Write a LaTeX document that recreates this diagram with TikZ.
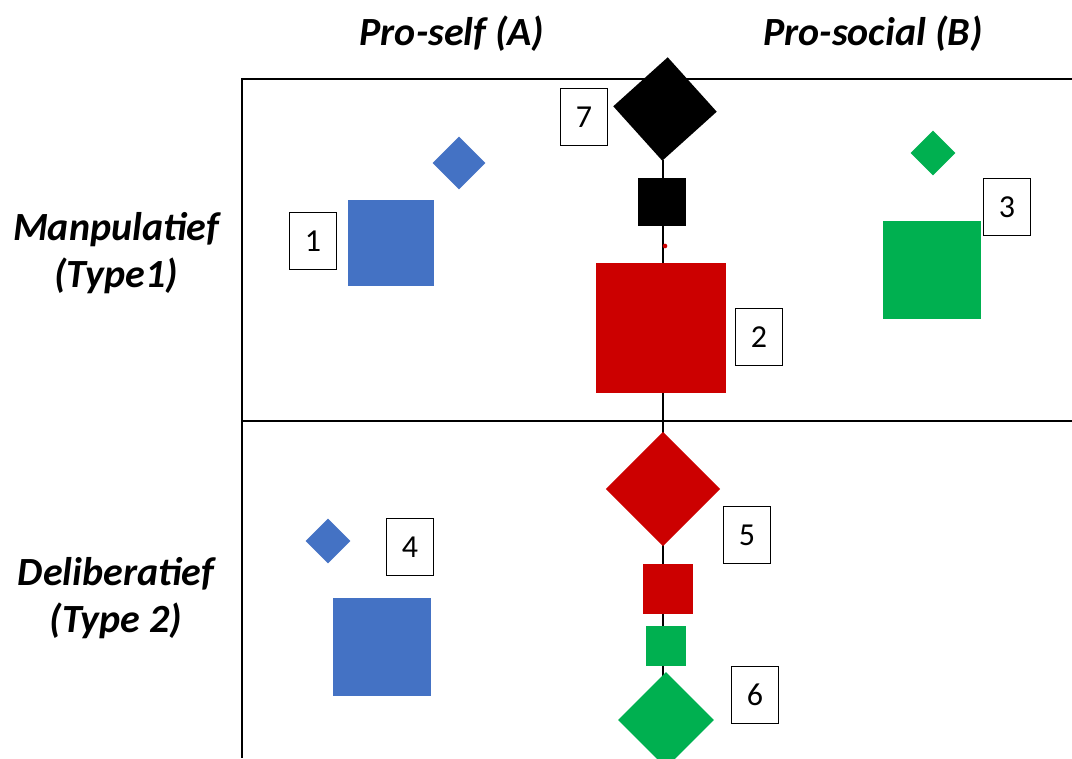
\documentclass[tikz,border=0pt]{standalone}
\usepackage{fontspec}
\setmainfont{Carlito}
\usetikzlibrary{shapes.geometric}

\definecolor{blueA}{HTML}{4472C4}
\definecolor{redA}{HTML}{CC0000}
\definecolor{greenA}{HTML}{00B050}

\tikzset{every picture/.style={line width=0.75pt}}
\tikzset{
  headtext/.style={inner sep=0.75pt, font=\fontsize{30}{35}\selectfont\bfseries\itshape, align=center},
  numbox/.style={draw, line width=1.1pt, minimum width=35pt, minimum height=42.5pt, inner sep=0pt, font=\fontsize{24}{28}\selectfont},
  sqbox/.style={rectangle, inner sep=0pt, minimum size=#1},
  dmbox/.style={diamond, inner sep=0pt, minimum width=#1, minimum height=#1}
}

\begin{document}
\begin{tikzpicture}[x=0.75pt,y=0.75pt,yscale=-1,xscale=1]
\useasboundingbox (0,0) rectangle (1072,758);

%Straight Lines (frame)
\draw [line width=1.5pt]  (1072,79) -- (242,79) -- (242,758) ;
\draw [line width=1.5pt]  (242,421) -- (1072,421) ;

%Straight Lines (middle axis)
\coordinate (axtop) at (663,160);
\coordinate (axbot) at (663,758);
\draw [line width=1.5pt]  (axtop) -- (axbot) ;

%Shape: Diamond 7
\node (d7) at (665,109) [dmbox=78pt, fill=black, rotate=-3] {};
%Shape: Square 7
\node (sq7) at (662,202) [sqbox=36pt, fill=black] {};
%Shape: Circle (red dot)
\node (dot) at (665,246) [circle, fill=redA, inner sep=0pt, minimum size=3.5pt] {};
%Shape: Square 2
\node (sq2) at (661,328) [sqbox=97.5pt, fill=redA] {};

%Shape: Diamond 1
\node (d1) at (459,163) [dmbox=40pt, fill=blueA] {};
%Shape: Square 1
\node (sq1) at (391,243) [sqbox=64pt, fill=blueA] {};

%Shape: Diamond 3
\node (d3) at (933,153) [dmbox=34pt, fill=greenA] {};
%Shape: Square 3
\node (sq3) at (932,270) [sqbox=73pt, fill=greenA] {};

%Shape: Diamond 4
\node (d4) at (328,541) [dmbox=34pt, fill=blueA] {};
%Shape: Square 4
\node (sq4) at (382,647) [sqbox=73pt, fill=blueA] {};

%Shape: Diamond 5
\node (d5) at (663,489) [dmbox=86pt, fill=redA] {};
%Shape: Square 5
\node (sq5) at (668,589) [sqbox=37pt, fill=redA] {};
%Shape: Square 6
\node (sq6) at (666,646) [sqbox=29.5pt, fill=greenA] {};
%Shape: Diamond 6
\node (d6) at (666,720) [dmbox=72pt, fill=greenA] {};

% Number Nodes
\node (n1) at (313,241) [numbox] {1};
\node (n2) at (759,337) [numbox] {2};
\node (n3) at (1007,207) [numbox] {3};
\node (n4) at (410,547) [numbox] {4};
\node (n5) at (747,535) [numbox] {5};
\node (n6) at (755,695) [numbox] {6};
\node (n7) at (584,117) [numbox] {7};

% Text Node
\node (pself) at (452,34) [headtext] {Pro-self (A)};
% Text Node
\node (psoc) at (873,34) [headtext] {Pro-social (B)};
% Text Node
\node (manip) at (116,253) [headtext] {Manpulatief\\(Type1)};
% Text Node
\node (delib) at (116,598) [headtext] {Deliberatief\\(Type 2)};

\end{tikzpicture}
\end{document}
